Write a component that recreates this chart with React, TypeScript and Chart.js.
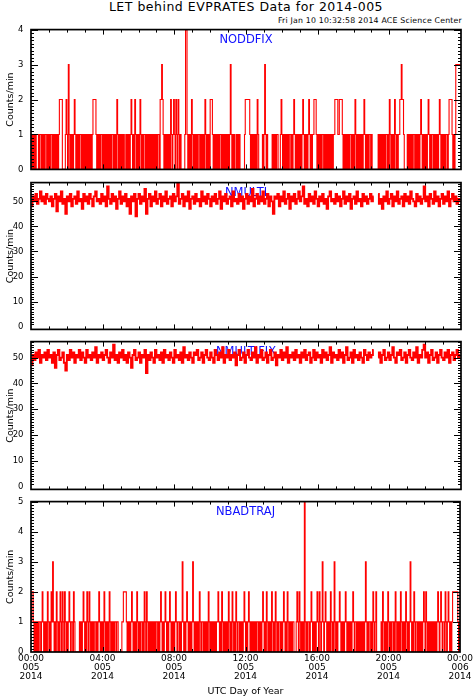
import React, { useEffect, useRef } from "react";
import { Chart, registerables } from "chart.js";

Chart.register(...registerables);

const FONT = "DejaVu Sans";

const TITLE = "LET behind EVPRATES Data for 2014-005";
const SUBTITLE = "Fri Jan 10 10:32:58 2014 ACE Science Center";
const Y_TITLE = "Counts/min";
const X_TITLE = "UTC Day of Year";

const X_TICK_HOURS = [0, 4, 8, 12, 16, 20, 24];
const X_TICK_TIME = ["00:00", "04:00", "08:00", "12:00", "16:00", "20:00", "00:00"];
const X_TICK_DAY = ["005", "005", "005", "005", "005", "005", "006"];
const X_TICK_YEAR = ["2014", "2014", "2014", "2014", "2014", "2014", "2014"];

const DAY_HOURS = 24;

const Y_TICKS_ODD = [0, 1, 2, 3, 4];
const Y_TICKS_MULTI = [0, 10, 20, 30, 40, 50];
const Y_TICKS_BAD = [0, 1, 2, 3, 4, 5];

// 2.5-minute counts, one digit per bin (576 bins)
const NODDFIX = [
  "10101010001011010101", "10101011010101010122", "22000012103101010121", "01010110101010101010",
  "10122221010101101010", "10101010110101021010", "10101001010101210102", "10101021010110101010",
  "10101010101102232101", "01010102101210210210", "10000014410101021010", "10101101010102101010",
  "22210101010101101010", "10101013101010010101", "00000012222221010101", "01021000001013101000",
  "00010101011000121010", "10101011010121010101", "01012101010121010112", "22101010101101010101",
  "01010112222112222101", "01010101101010210101", "01010121010101101000", "00000101010101011010",
  "21010102101011223221", "00001010101011010101", "01210101010121010110", "10101012101010101101",
  "2222101013333333",
].join("").split("").map(Number);

// 5-minute counts (288 bins)
const NMULTI = [
  48, 52, 50, 53, 49, 51, 54, 50, 52, 49, 53, 51,
  50, 52, 48, 51, 53, 46, 52, 50, 54, 49, 51, 45,
  52, 50, 53, 48, 51, 52, 49, 54, 50, 51, 47, 53,
  50, 52, 49, 53, 51, 48, 52, 54, 50, 51, 49, 53,
  50, 52, 48, 56, 51, 49, 53, 50, 52, 47, 51, 54,
  49, 52, 50, 53, 48, 51, 45, 52, 50, 53, 44, 51,
  53, 49, 52, 50, 55, 45, 51, 53, 48, 52, 50, 54,
  49, 51, 53, 48, 52, 50, 54, 49, 51, 52, 48, 53,
  50, 52, 57, 49, 51, 53, 48, 52, 50, 54, 47, 51,
  52, 49, 53, 50, 51, 48, 54, 50, 52, 49, 53, 51,
  48, 52, 50, 53, 49, 51, 54, 47, 52, 50, 53, 49,
  51, 52, 48, 54, 50, 51, 49, 53, 50, 52, 47, 51,
  53, 49, 52, 50, 55, 48, 51, 53, 49, 52, 50, 54,
  49, 51, 53, 48, 52, 50, 45, 52, 51, 53, 48, 52,
  50, 54, 49, 51, 53, 47, 52, 50, 53, 49, 51, 54,
  50, 52, 56, 49, 51, 48, 53, 50, 52, 49, 54, 51,
  48, 52, 50, 53, 49, 51, 47, 52, 54, 50, 51, 49,
  53, 50, 52, 48, 51, 54, 49, 52, 50, 53, 47, 51,
  52, 49, 54, 50, 51, 48, 53, 50, 52, 49, 51, 53,
  50, 52, null, null, 53, 49, 51, 47, 52, 50, 54, 49,
  51, 53, 48, 52, 50, 54, 49, 51, 52, 48, 53, 50,
  52, 49, 54, 51, 50, 48, 53, 50, 52, 49, 51, 56,
  50, 52, 48, 53, 51, 49, 54, 50, 52, 48, 51, 53,
  49, 52, 50, 54, 48, 51, 53, 50, 52, 49, 51, 50,
];

// 5-minute counts (288 bins)
const NMULTIFIX = [
  47, 51, 49, 52, 50, 53, 48, 51, 50, 52, 49, 53,
  50, 51, 48, 52, 46, 51, 53, 49, 50, 52, 48, 45,
  51, 49, 53, 50, 52, 48, 51, 50, 53, 49, 52, 50,
  48, 53, 50, 51, 49, 52, 50, 54, 48, 51, 50, 52,
  49, 51, 53, 50, 48, 52, 50, 55, 49, 51, 48, 52,
  50, 53, 49, 51, 48, 52, 50, 46, 51, 53, 49, 50,
  52, 48, 51, 50, 53, 44, 51, 49, 52, 50, 48, 53,
  50, 51, 49, 52, 48, 53, 50, 51, 49, 52, 50, 48,
  53, 50, 51, 49, 52, 48, 54, 50, 51, 49, 52, 50,
  48, 52, 51, 53, 49, 50, 52, 48, 51, 53, 50, 49,
  52, 50, 48, 53, 51, 49, 52, 50, 54, 48, 51, 50,
  53, 49, 51, 50, 52, 47, 51, 53, 49, 50, 52, 48,
  51, 53, 50, 49, 52, 50, 54, 48, 51, 50, 53, 49,
  50, 52, 48, 51, 53, 49, 50, 52, 47, 51, 50, 53,
  49, 52, 50, 54, 48, 51, 50, 52, 49, 53, 50, 51,
  48, 52, 50, 53, 49, 51, 52, 48, 50, 53, 49, 52,
  50, 51, 48, 53, 50, 52, 49, 51, 54, 48, 52, 50,
  51, 49, 53, 50, 52, 48, 51, 54, 49, 50, 52, 48,
  53, 50, 51, 49, 52, 50, 48, 53, 51, 49, 52, 50,
  51, 53, null, null, 50, 52, 48, 51, 53, 49, 50, 52,
  49, 51, 54, 50, 48, 52, 51, 53, 49, 50, 52, 48,
  51, 53, 50, 49, 52, 50, 54, 48, 51, 50, 53, 55,
  50, 52, 48, 51, 53, 49, 50, 52, 48, 51, 53, 50,
  49, 52, 50, 53, 48, 51, 52, 49, 51, 53, 50, 51,
];

// 2.5-minute counts, one digit per bin (576 bins)
const NBADTRAJ = [
  "12210101010110121010", "10210102131010210102", "10210210101210110210", "00000101012101021021",
  "01010110101210101021", "01010210101011011000", "00112222101010121010", "10210101101021021010",
  "10101010110101210101", "21010121010101210110", "10131010121010101310", "10101021011010101021",
  "01010101011210102101", "01010210102101021011", "01010121010121010101", "01011010101210102101",
  "01021010210101101012", "10102101010110001210", "21010105101011012101", "01012102101310121010",
  "10210103101011210101", "01210101010121011010", "10101010131010110102", "10120000001021010102",
  "10101101021010102101", "01021010131010210110", "10101012102101010101", "01010121012101102101",
  "2101012222222101",
].join("").split("").map(Number);

type PanelDef = {
  name: string;
  values: (number | null)[];
  majors: number[];
  top: number;
  bottom: number;
  min: number;
  max: number;
  minor: number;
  lineWidth: number;
};

const PANELS: PanelDef[] = [
  { name: "NODDFIX", values: NODDFIX, majors: Y_TICKS_ODD, top: 25, bottom: 174, min: 0, max: 4, minor: 0.1, lineWidth: 1.1 },
  { name: "NMULTI", values: NMULTI, majors: Y_TICKS_MULTI, top: 178, bottom: 334, min: -1.1, max: 57.5, minor: 1, lineWidth: 1.9 },
  { name: "NMULTIFIX", values: NMULTIFIX, majors: Y_TICKS_MULTI, top: 337, bottom: 494, min: -1.1, max: 56.2, minor: 1, lineWidth: 1.9 },
  { name: "NBADTRAJ", values: NBADTRAJ, majors: Y_TICKS_BAD, top: 497, bottom: 652, min: 0, max: 5, minor: 0.1, lineWidth: 1.1 },
];

const PAGE_H = 700;
const PAGE_W = 475;
const PLOT_LEFT = 31;
const PLOT_RIGHT = 461;

function Panel({ p, last }: { p: PanelDef; last: boolean }) {
  const ref = useRef<HTMLCanvasElement>(null);
  const padTop = 8;
  const padBottom = last ? 0 : 8;
  const xAxisH = last ? PAGE_H - p.bottom : 0;
  const canvasTop = p.top - padTop;
  const canvasH = padTop + (p.bottom - p.top) + (last ? xAxisH : padBottom);

  useEffect(() => {
    if (!ref.current) return;
    const bin = DAY_HOURS / p.values.length;
    const framePlugin = {
      id: "frame",
      beforeDatasetsDraw(chart: any) {
        const { ctx, chartArea: a } = chart;
        ctx.save();
        ctx.fillStyle = "#1010ff";
        ctx.font = `11.5px "${FONT}"`;
        ctx.textAlign = "center";
        ctx.textBaseline = "middle";
        ctx.fillText(p.name, (a.left + a.right) / 2, a.top + 10);
        ctx.restore();
      },
      afterDraw(chart: any) {
        const { ctx, chartArea: a, scales } = chart;
        const xs = scales.x;
        const ys = scales.y;
        ctx.save();
        ctx.strokeStyle = "#000";
        ctx.lineWidth = 1;
        ctx.beginPath();
        for (let h = 1; h < 24; h++) {
          const x = Math.round(xs.getPixelForValue(h)) + 0.5;
          const len = h % 4 === 0 ? 5 : 3;
          ctx.moveTo(x, a.top);
          ctx.lineTo(x, a.top + len);
          ctx.moveTo(x, a.bottom);
          ctx.lineTo(x, a.bottom - len);
        }
        const n = Math.floor(p.max / p.minor + 1e-6);
        for (let k = 1; k <= n; k++) {
          const v = k * p.minor;
          const y = Math.round(ys.getPixelForValue(v)) + 0.5;
          const major = p.majors.some((m) => Math.abs(m - v) < p.minor / 2);
          const len = major ? 7 : 3;
          ctx.moveTo(a.left, y);
          ctx.lineTo(a.left + len, y);
          ctx.moveTo(a.right, y);
          ctx.lineTo(a.right - len, y);
        }
        ctx.stroke();
        ctx.lineWidth = 1.7;
        ctx.strokeRect(a.left, a.top, a.right - a.left, a.bottom - a.top);
        ctx.restore();
      },
    };

    const chart = new Chart(ref.current, {
      type: "line",
      data: {
        datasets: [
          {
            data: p.values.map((v, i) => ({ x: (i + 0.5) * bin, y: v })) as any,
            borderColor: "#ff0000",
            borderWidth: p.lineWidth,
            pointRadius: 0,
            stepped: "middle",
            spanGaps: false,
            fill: false,
          },
        ],
      },
      options: {
        animation: false,
        responsive: false,
        maintainAspectRatio: false,
        events: [],
        layout: { padding: { left: 0, right: PAGE_W - PLOT_RIGHT, top: padTop, bottom: padBottom } },
        plugins: { legend: { display: false }, tooltip: { enabled: false }, title: { display: false } },
        scales: {
          x: {
            type: "linear",
            min: 0,
            max: 24,
            display: last,
            grid: { display: false, drawTicks: false },
            border: { display: false },
            afterFit: (s: any) => {
              s.height = xAxisH;
            },
            afterBuildTicks: (s: any) => {
              s.ticks = X_TICK_HOURS.map((v) => ({ value: v }));
            },
            ticks: {
              autoSkip: false,
              maxRotation: 0,
              minRotation: 0,
              padding: 2,
              color: "#000",
              font: { family: FONT, size: 9, lineHeight: 1 },
              callback: (_v: any, i: number) => [X_TICK_TIME[i], X_TICK_DAY[i], X_TICK_YEAR[i]],
            },
            title: {
              display: true,
              text: X_TITLE,
              color: "#000",
              font: { family: FONT, size: 9.5 },
              padding: { top: 0, bottom: 2.5 },
            },
          },
          y: {
            type: "linear",
            min: p.min,
            max: p.max,
            grid: { display: false, drawTicks: false },
            border: { display: false },
            afterFit: (s: any) => {
              s.width = PLOT_LEFT;
            },
            afterBuildTicks: (s: any) => {
              s.ticks = p.majors.map((v) => ({ value: v }));
            },
            ticks: {
              padding: 7.5,
              color: "#000",
              font: { family: FONT, size: 8.5 },
            },
            title: {
              display: true,
              text: Y_TITLE,
              color: "#000",
              font: { family: FONT, size: 9.5 },
              padding: { top: 4.8, bottom: 0 },
            },
          },
        },
      },
      plugins: [framePlugin as any],
    });
    return () => chart.destroy();
  }, []);

  return (
    <canvas
      ref={ref}
      width={PAGE_W}
      height={canvasH}
      style={{ position: "absolute", left: 0, top: canvasTop, width: PAGE_W, height: canvasH }}
    />
  );
}

export default function App() {
  return (
    <div
      style={{
        position: "absolute",
        left: 0,
        top: 0,
        width: PAGE_W,
        height: PAGE_H,
        background: "#fff",
        fontFamily: `"${FONT}"`,
        color: "#000",
        overflow: "hidden",
      }}
    >
      <div
        style={{
          position: "absolute",
          left: PLOT_LEFT,
          width: PLOT_RIGHT - PLOT_LEFT,
          top: 0,
          textAlign: "center",
          fontSize: 12.5,
          letterSpacing: 0.5,
          lineHeight: "13px",
          whiteSpace: "nowrap",
        }}
      >
        {TITLE}
      </div>
      <div
        style={{
          position: "absolute",
          left: 0,
          width: 462,
          top: 15.5,
          textAlign: "right",
          fontSize: 7.8,
          letterSpacing: 0.2,
          lineHeight: "9px",
          whiteSpace: "nowrap",
        }}
      >
        {SUBTITLE}
      </div>
      {PANELS.map((p, i) => (
        <Panel key={p.name} p={p} last={i === PANELS.length - 1} />
      ))}
    </div>
  );
}
